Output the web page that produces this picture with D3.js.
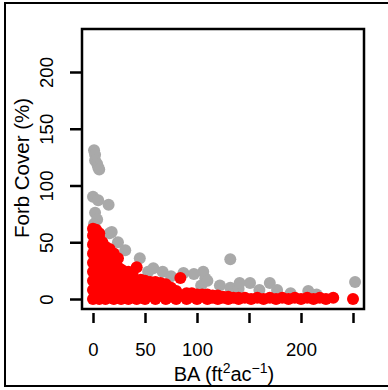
<!DOCTYPE html>
<html><head><meta charset="utf-8">
<script src="https://cdn.jsdelivr.net/npm/d3@7"></script>
<style>body{margin:0;background:#fff}svg{display:block}text{font-family:"Liberation Sans",Arial,sans-serif;fill:#000}</style>
</head><body><svg id="c" width="388" height="390"></svg>
<script>
const xTicks = [0, 50, 100, 150, 200, 250];
const xTickLabels = ["0", "50", "100", "", "200", ""];
const yTicks = [0, 50, 100, 150, 200];
const xTitle = "BA";
const yTitle = "Forb Cover (%)";

const grayBA    = [1,2,2,4,5,6,0,5,15,2,4,1,18,16,24,31,45,53,58,67,75,87,97,106,108,104,110,122,132,140,141,132,151,160,170,177,190,207,215,252];
const grayCover = [131,127,122,119,116,114,90,87,83,76,70,66,59,58,50,43,36,24,27,24,20,23,22,24,18,12,16,12,10,9,14,35,14,8,14,8,5,7,4,15];

const redBA = [
  0,0,0,0,0,0,0,0,0,
  3,3,3,3,3,3,3,3,
  6,6,6,6,6,6,6,6,
  9,9,9,9,9,9,
  12,12,12,12,12,12,
  16,16,16,16,16,16,
  20,20,20,20,20,20,
  24,24,24,24,24,
  27,27,27,27,
  30,30,30,30,
  34,34,34,34,
  38,38,38,38,
  42,42,42,42,
  46,46,46,
  50,50,50,
  55,55,55,
  60,60,60,
  65,65,65,
  70,70,70,
  75,75,
  80,80,
  84,84,
  90,90,
  95,95,
  100,100,
  105,105,
  110,110,
  115,115,
  120,120,
  125,125,
  130,130,
  135,
  140,140,
  146,152,158,164,170,176,182,188,194,200,206,212,218,224,231,250
];
const redCover = [
  0,8,16,24,32,40,48,56,62,
  4,12,20,28,36,44,52,61,
  0,9,18,27,36,45,54,58,
  3,12,21,30,40,50,
  0,9,18,27,36,46,
  4,13,22,31,38,44,
  0,9,18,27,34,40,
  3,12,20,28,36,
  0,8,16,26,
  4,12,20,24,
  0,8,16,24,
  3,11,18,22,
  0,8,16,28,
  4,11,17,
  0,8,16,
  3,10,15,
  0,7,15,
  3,9,14,
  0,6,13,
  2,10,
  0,7,
  3,18.5,
  0,5,
  2,5,
  0,4,
  2,4,
  0,4,
  1,3,
  0,3,
  1,2,
  0,2,
  1,
  0,1,
  1,0,1,0,1,0,1,0,1,0,1,0,1,0,1,0
];

const svg = d3.select("#c");
const x = d3.scaleLinear().domain([0, 250]).range([93, 353]);
const y = d3.scaleLinear().domain([0, 200]).range([299, 72]);
const box = {l: 82, r: 364, t: 29, b: 309};

// outer frame
svg.append("rect").attr("x", 5).attr("y", 3).attr("width", 400).attr("height", 383)
  .attr("fill", "none").attr("stroke", "#000").attr("stroke-width", 2);

const gray = grayBA.map((d, i) => [d, grayCover[i]]);
const red = redBA.map((d, i) => [d, redCover[i]]);
const r = 6;
svg.append("g").selectAll("circle").data(gray).join("circle")
  .attr("cx", d => x(d[0])).attr("cy", d => y(d[1])).attr("r", r).attr("fill", "#A9A9A9");
svg.append("g").selectAll("circle").data(red).join("circle")
  .attr("cx", d => x(d[0])).attr("cy", d => y(d[1])).attr("r", r).attr("fill", "#FF0000");

// plot box
svg.append("rect").attr("x", box.l).attr("y", box.t).attr("width", box.r - box.l).attr("height", box.b - box.t)
  .attr("fill", "none").attr("stroke", "#000").attr("stroke-width", 2.5);

// x axis (ticks only)
const xa = svg.append("g").attr("transform", `translate(0,${box.b + 4})`)
  .call(d3.axisBottom(x).tickValues(xTicks).tickSize(10).tickPadding(20).tickFormat((d, i) => xTickLabels[i]));
xa.select(".domain").remove();
xa.selectAll(".tick line").attr("stroke", "#000").attr("stroke-width", 2.5);
xa.selectAll(".tick text").attr("font-size", 18.5).attr("font-family", '"Liberation Sans",Arial,sans-serif');

// y axis
const ya = svg.append("g").attr("transform", `translate(${box.l},0)`)
  .call(d3.axisLeft(y).tickValues(yTicks).tickSize(12).tickPadding(0).tickFormat(d3.format("d")));
ya.select(".domain").remove();
ya.selectAll(".tick line").attr("stroke", "#000").attr("stroke-width", 2.5);
ya.selectAll(".tick text").attr("font-size", 18.5).attr("font-family", '"Liberation Sans",Arial,sans-serif')
  .attr("x", 0).attr("y", 0).attr("dy", 0).attr("text-anchor", "middle")
  .attr("transform", "translate(-29,0) rotate(-90)");

// x title
const xt = svg.append("text").attr("x", 224).attr("y", 381).attr("text-anchor", "middle").attr("font-size", 20);
xt.append("tspan").text(xTitle + " (ft");
xt.append("tspan").attr("dy", -8).attr("font-size", 14).text("2");
xt.append("tspan").attr("dy", 8).text("ac");
xt.append("tspan").attr("dy", -8).attr("font-size", 14).text("\u22121");
xt.append("tspan").attr("dy", 8).text(")");

// y title
svg.append("text").attr("transform", "translate(29,168) rotate(-90)").attr("text-anchor", "middle")
  .attr("font-size", 20.5).text(yTitle);
</script></body></html>
